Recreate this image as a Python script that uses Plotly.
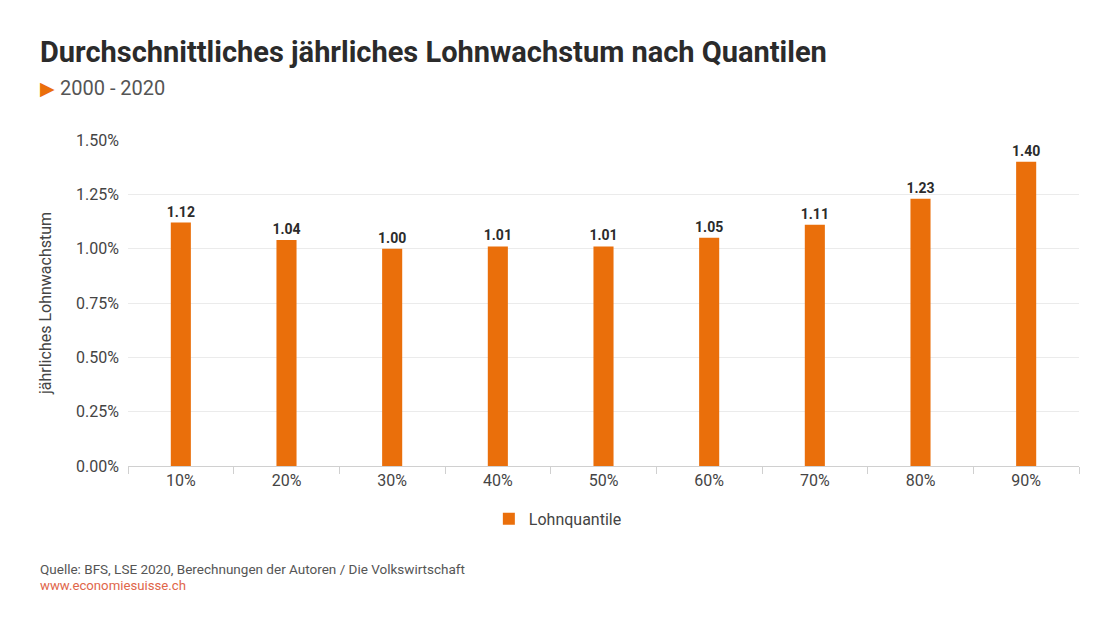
import plotly.graph_objects as go

categories = ["10%", "20%", "30%", "40%", "50%", "60%", "70%", "80%", "90%"]
values = [1.12, 1.04, 1.00, 1.01, 1.01, 1.05, 1.11, 1.23, 1.40]
y_ticks = [0, 0.25, 0.5, 0.75, 1.0, 1.25, 1.5]
y_ticktext = [f"{v:.2f}%" for v in y_ticks]

ORANGE = "#EA6F0B"
FONT = "Roboto"

fig = go.Figure()
fig.add_trace(go.Bar(
    x=categories, y=values, name="Lohnquantile",
    marker=dict(color=ORANGE, line=dict(width=0)),
    text=[f"{v:.2f}" for v in values], textposition="outside",
    constraintext="none",
    textfont=dict(family=FONT, size=14, color="#2b2b2b", weight="bold"),
    cliponaxis=False,
))

fig.update_layout(
    width=1120, height=630,
    margin=dict(l=128, r=41, t=140, b=164),
    paper_bgcolor="white", plot_bgcolor="white",
    font=dict(family=FONT, color="#444444"),
    bargap=0.81,
    showlegend=True,
    legend=dict(orientation="h", x=0.452, xanchor="center", y=-0.11, yanchor="top",
                font=dict(size=16, color="#444444"), itemwidth=30),
    xaxis=dict(type="category", showgrid=False, showline=True, linecolor="#d0d0d0", linewidth=1,
               ticks="outside", tickson="boundaries", ticklen=7, tickcolor="#d0d0d0",
               tickfont=dict(size=16, color="#444444")),
    yaxis=dict(range=[0, 1.5], tickvals=y_ticks, ticktext=y_ticktext,
               showgrid=True, gridcolor="#ebebeb", gridwidth=1, zeroline=False,
               tickfont=dict(size=16, color="#444444"), ticklen=0, ticklabelstandoff=8,
               title=dict(text="jährliches Lohnwachstum", font=dict(size=16, color="#444444"), standoff=20)),
)

fig.add_annotation(text="<b>Durchschnittliches jährliches Lohnwachstum nach Quantilen</b>",
                   xref="paper", yref="paper", x=0, y=0, xanchor="left", yanchor="middle",
                   showarrow=False, font=dict(size=29, color="#2b2b2b", family=FONT))
fig.add_annotation(text="<span style='color:#EA6F0B;font-size:19px'>▶</span> 2000 - 2020",
                   xref="paper", yref="paper", x=0, y=0, xanchor="left", yanchor="middle",
                   showarrow=False, font=dict(size=20, color="#555555", family=FONT))
fig.add_annotation(text="Quelle: BFS, LSE 2020, Berechnungen der Autoren / Die Volkswirtschaft",
                   xref="paper", yref="paper", x=0, y=0, xanchor="left", yanchor="middle",
                   showarrow=False, font=dict(size=13.5, color="#555555", family=FONT))
fig.add_annotation(text="www.economiesuisse.ch",
                   xref="paper", yref="paper", x=0, y=0, xanchor="left", yanchor="middle",
                   showarrow=False, font=dict(size=13.2, color="#E0664A", family=FONT))

# position annotations in pixel terms
plot_h = 630 - 140 - 164
plot_w = 1120 - 128 - 41
def px(xp): return (xp - 128) / plot_w
def py(yp): return (630 - 164 - yp) / plot_h
pos = [(38, 52), (38, 88), (38, 569), (38, 585)]
for ann, (xx, yy) in zip(fig.layout.annotations, pos):
    ann.x = px(xx)
    ann.y = py(yy)

fig.write_html("out.html", config={"displayModeBar": False},
               post_script="document.body.style.margin='0';document.body.style.padding='0';")
